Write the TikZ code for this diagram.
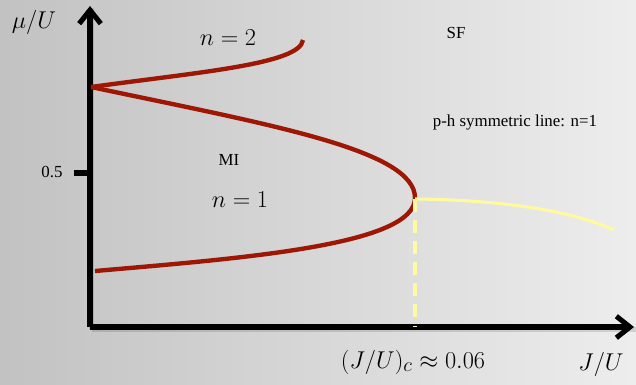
\documentclass[tikz,border=0pt]{standalone}
\usepackage{fontspec}
\newfontfamily\labelfont{Liberation Serif}
\usetikzlibrary{arrows.meta}
\definecolor{lobered}{RGB}{158,22,4}
\definecolor{phyellow}{RGB}{255,249,160}

\begin{document}
\begin{tikzpicture}[
    axis/.style={line width=3.6pt, -{Straight Barb[length=3.4mm, width=5.4mm]}},
    axshadow/.style={line width=4pt, draw=black, opacity=0.12},
    lobe/.style={line width=3.1pt, draw=lobered},
    ph/.style={line width=2.2pt, draw=phyellow},
    mlab/.style={font=\fontsize{19}{22}\selectfont},
    tlab/.style={font=\labelfont\fontsize{12}{14}\selectfont}]

% ---------------- background: grey to light grey
  \shade[left color=black!24, middle color=black!9, right color=black!7]
    (0,0) rectangle (15.9,9.6);
  \useasboundingbox (0,0) rectangle (15.9,9.6);

% ---------------- axes
  \coordinate (O) at (2.25,1.425);
  \coordinate (ytip) at (2.25,9.45);
  \coordinate (xtip) at (15.85,1.425);
  \draw[axshadow] ([shift={(0.04,-0.06)}]O) -- ([shift={(0.04,-0.06)}]xtip);
  \draw[axshadow] ([shift={(0.04,-0.06)}]O) -- ([shift={(0.04,-0.06)}]ytip);
  \draw[axis] (O) -- (xtip);
  \draw[axis] (O) -- (ytip);
  \coordinate (tick) at (1.85,5.275);
  \draw[line width=3.6pt] (tick) -- (O |- tick);
  \node[tlab] (half) at (1.3,5.3) {0.5};
  \node[mlab] (mu) at (0.85,9.05) {$\mu/U$};
  \node[mlab] (JU) at (15.025,0.5) {$J/U$};
  \node[mlab] (crit) at (10.325,0.55) {$(J/U)_c \approx 0.06$};

% ---------------- Mott lobes n=1 and n=2
  \coordinate (A) at (2.275,7.425);
  \coordinate (T) at (10.375,4.65);
  \coordinate (L) at (2.375,2.825);
  \coordinate (E) at (7.575,8.6);
  \draw[lobe] (A) .. controls (6.775,6.475) and (10.375,5.85) .. (T)
                  .. controls (10.375,3.475) and (6.125,3.15) .. (L);
  \draw[lobe] (A) .. controls (5.0,7.8) and (7.5,8.0) .. (E);

% ---------------- particle-hole symmetric line
  \coordinate (P) at (10.375,4.625);
  \coordinate (Q) at (15.35,3.85);
  \draw[ph] (P) .. controls (12.5,4.6) and (14.25,4.35) .. (Q);
  \draw[ph, dash pattern=on 9pt off 6pt] (P) -- (P |- O);

% ---------------- phase labels
  \node[mlab] (n2) at (5.7,8.65) {$n=2$};
  \node[tlab] (MI) at (5.725,5.6) {MI};
  \node[mlab] (n1) at (6.0,4.6) {$n=1$};
  \node[tlab] (SF) at (11.4,8.775) {SF};
  \node[tlab] (phline) at (12.875,6.55) {p-h symmetric line: n=1};
\end{tikzpicture}
\end{document}
